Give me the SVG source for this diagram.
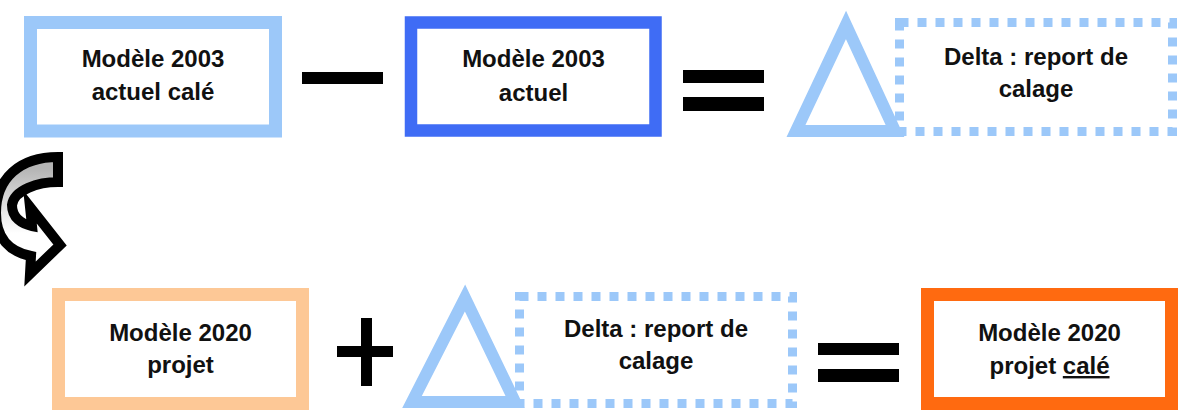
<svg xmlns="http://www.w3.org/2000/svg" width="1189" height="419" viewBox="0 0 1189 419">
<defs>
<style>
.lb{fill:#fff;stroke:#9cc8f9;stroke-width:13}
.db{fill:#fff;stroke:#3f6cf5;stroke-width:12.5}
.pb{fill:#fff;stroke:#fdc896;stroke-width:13}
.ob{fill:#fff;stroke:#ff6a10;stroke-width:13}
.dot{fill:none;stroke:#9cc8f9;stroke-width:9;stroke-dasharray:9 9}
.tri{fill:#fff;stroke:#9cc8f9;stroke-width:12;stroke-linejoin:miter}
.t{font-family:"Liberation Sans",Arial,sans-serif;font-weight:bold;font-size:24px;fill:#111;text-anchor:middle}
.op{fill:#000}
</style>
<linearGradient id="ag" x1="0" y1="0" x2="0" y2="1">
<stop offset="0.1" stop-color="#b5b5b5"/>
<stop offset="0.65" stop-color="#ffffff"/>
</linearGradient>
</defs>
<rect width="1189" height="419" fill="#fff"/>
<g id="box-2003-cale">
<rect class="lb" x="30.5" y="22.5" width="245" height="108.5"/>
<text class="t" x="153" y="67">Modèle 2003</text>
<text class="t" x="153" y="100">actuel calé</text>
</g>
<g id="minus"><rect class="op" x="302" y="72" width="81" height="12"/></g>
<g id="box-2003-actuel">
<rect class="db" x="411" y="22.5" width="244.5" height="108"/>
<text class="t" x="533.5" y="67">Modèle 2003</text>
<text class="t" x="533.5" y="101">actuel</text>
</g>
<g id="equals-top"><rect class="op" x="683" y="70" width="81" height="13"/><rect class="op" x="683" y="97" width="81" height="14"/></g>
<g id="delta-top">
<rect class="dot" x="899.5" y="22.5" width="273" height="109"/>
<polygon class="tri" points="846,25 895,131 796,131"/>
<text class="t" x="1036" y="65">Delta : report de</text>
<text class="t" x="1036" y="97">calage</text>
</g>
<g id="curved-arrow">
<path d="M58 157 L58 182 C38 182 14 190 12 205 C12 218 22 224 32 226 L30 207 L60 245 L30 274 L31 256 C10 252 -4 238 -4 213 C-4 178 20 157 58 157 Z" fill="url(#ag)" stroke="#000" stroke-width="10" stroke-linejoin="miter" stroke-miterlimit="10"/>
</g>
<g id="box-2020-projet">
<rect class="pb" x="58.5" y="294.5" width="244" height="109"/>
<text class="t" x="180.5" y="341">Modèle 2020</text>
<text class="t" x="180.5" y="373">projet</text>
</g>
<g id="plus"><rect class="op" x="361" y="318" width="11" height="68"/><rect class="op" x="337" y="346" width="56" height="11"/></g>
<g id="delta-bottom">
<rect class="dot" x="519.5" y="296.5" width="273" height="107"/>
<polygon class="tri" points="465,298 515,402 412,402"/>
<text class="t" x="656" y="337">Delta : report de</text>
<text class="t" x="656" y="369">calage</text>
</g>
<g id="equals-bottom"><rect class="op" x="818" y="343" width="81" height="12"/><rect class="op" x="818" y="369" width="81" height="13"/></g>
<g id="box-2020-cale">
<rect class="ob" x="927.5" y="294.5" width="244" height="109"/>
<text class="t" x="1049.5" y="341">Modèle 2020</text>
<text class="t" x="1049.5" y="374">projet <tspan text-decoration="underline">calé</tspan></text>
</g>
</svg>
